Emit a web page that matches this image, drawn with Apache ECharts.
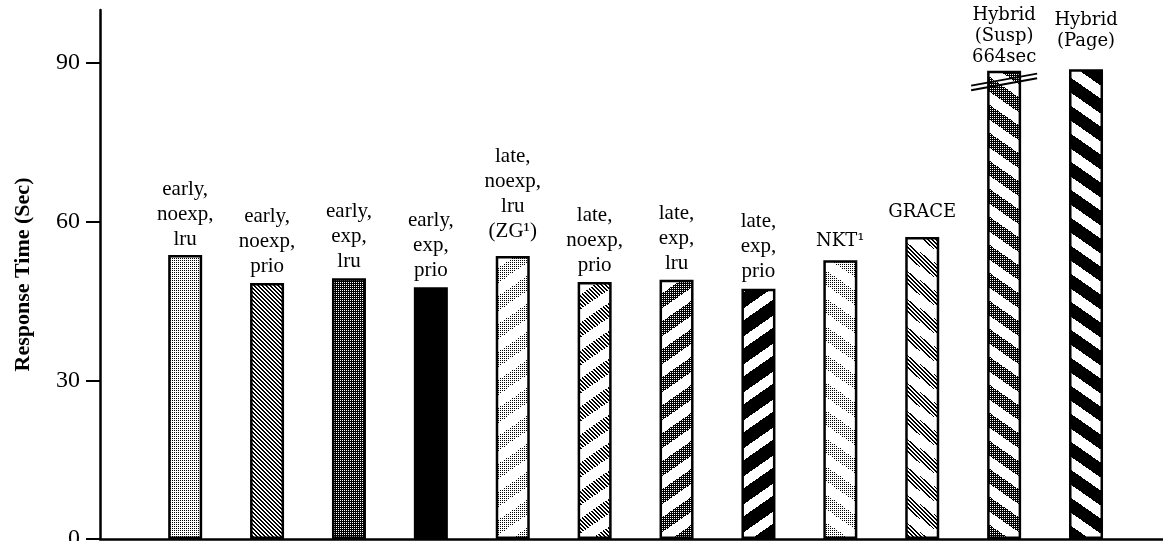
<!DOCTYPE html>
<html>
<head>
<meta charset="utf-8">
<script src="https://cdn.jsdelivr.net/npm/echarts@6/dist/echarts.min.js"></script>
<style>
html,body{margin:0;padding:0;background:#fff;}
#chart{width:1163px;height:541px;}
</style>
</head>
<body>
<div id="chart"></div>
<script>
// ---- data ----
const categories = [
  'early,\nnoexp,\nlru',
  'early,\nnoexp,\nprio',
  'early,\nexp,\nlru',
  'early,\nexp,\nprio',
  'late,\nnoexp,\nlru\n(ZG\u00B9)',
  'late,\nnoexp,\nprio',
  'late,\nexp,\nlru',
  'late,\nexp,\nprio',
  'NKT\u00B9',
  'GRACE',
  'Hybrid\n(Susp)\n664sec',
  'Hybrid\n(Page)'
];
const values = [53.7, 48.4, 49.3, 47.6, 53.5, 48.6, 49.0, 47.3, 52.7, 57.1, 88.5, 88.8];
const yTicks = [0, 30, 60, 90];
const breakAt = [[10, 86.4]]; // axis break marker on the 664sec bar

// ---- styles (patterns) ----
const textures = {
  light: (x, y) => (x % 2 === 0 && y % 2 === 0),
  medium: (x, y) => (((x - y) % 4 + 4) % 4) < 2,
  dark: (x, y) => !(x % 2 === 0 && y % 2 === 0),
  black: () => true
};
function tile(w, h, fn) {
  const c = document.createElement('canvas');
  c.width = w; c.height = h;
  const ctx = c.getContext('2d');
  const img = ctx.createImageData(w, h);
  for (let y = 0; y < h; y++) for (let x = 0; x < w; x++) {
    const k = (y * w + x) * 4;
    const v = fn(x, y) ? 0 : 255;
    img.data[k] = v; img.data[k + 1] = v; img.data[k + 2] = v; img.data[k + 3] = 255;
  }
  ctx.putImageData(img, 0, 0);
  return c;
}
function plain(tex) { return { image: tile(4, 4, textures[tex]), repeat: 'repeat' }; }
function stripes(tex, dir, band) {
  const W = 40, H = 28;
  return {
    image: tile(W, H, (x, y) => {
      const t = dir === 'up' ? (y + x * H / W) : (y - x * H / W);
      const m = ((t % H) + H) % H;
      return m < band ? textures[tex](x, y) : false;
    }),
    repeat: 'repeat'
  };
}
const fills = [
  plain('light'), plain('medium'), plain('dark'), plain('black'),
  stripes('light', 'up', 15), stripes('medium', 'up', 15), stripes('dark', 'up', 15), stripes('black', 'up', 16),
  stripes('light', 'down', 15), stripes('medium', 'down', 15), stripes('dark', 'down', 15), stripes('black', 'down', 15)
];
const timesLabel = { fontFamily: 'Liberation Serif', fontSize: 21, lineHeight: 25 };
const schoolLabel = { fontFamily: 'DejaVu Serif', fontSize: 18, lineHeight: 21 };
const labelDist = [3, 4, 4, 4, 12, 4, 4, 5, 8, 14, 3, 17];

const barData = values.map((v, i) => ({
  value: [i, v],
  itemStyle: { color: fills[i] },
  label: Object.assign({ distance: labelDist[i] }, i >= 8 ? schoolLabel : timesLabel)
}));

const chart = echarts.init(document.getElementById('chart'));
chart.setOption({
  animation: false,
  backgroundColor: '#fff',
  grid: { left: 100, right: 0, top: 10, bottom: 2, containLabel: false, outerBoundsMode: 'none' },
  xAxis: {
    type: 'value', min: -1.04, max: 11.94,
    axisLine: { show: true, onZero: false, lineStyle: { color: '#000', width: 2.5 } },
    axisTick: { show: false }, axisLabel: { show: false }, splitLine: { show: false }
  },
  yAxis: {
    type: 'value', min: 0, max: 100,
    name: 'Response Time (Sec)', nameLocation: 'middle', nameGap: 66,
    nameTextStyle: { fontFamily: 'Liberation Serif', fontWeight: 'bold', fontSize: 22, color: '#000' },
    axisLine: { show: true, onZero: false, lineStyle: { color: '#000', width: 2.5 } },
    axisTick: { show: true, inside: false, length: 14, customValues: yTicks, lineStyle: { color: '#000', width: 2 } },
    axisLabel: { customValues: yTicks, margin: 20, fontFamily: 'Liberation Serif', fontSize: 24, color: '#000' },
    splitLine: { show: false }
  },
  series: [
    {
      type: 'bar', barWidth: 34, data: barData,
      itemStyle: { borderColor: '#000', borderWidth: 2.5 },
      label: {
        show: true, position: 'top', color: '#000', align: 'center',
        formatter: p => categories[p.dataIndex]
      },
      emphasis: { disabled: true }, silent: true
    },
    {
      type: 'custom', data: breakAt, silent: true, z: 5,
      renderItem: (params, api) => {
        const c = api.coord([api.value(0), api.value(1)]);
        const dx = 33, dy = 6, gap = 2.3;
        return {
          type: 'group',
          children: [-gap, gap].map(o => ({
            type: 'line',
            shape: { x1: c[0] - dx, y1: c[1] + dy + o, x2: c[0] + dx, y2: c[1] - dy + o },
            style: { stroke: '#000', lineWidth: 1.8 }
          }))
        };
      }
    }
  ]
});
</script>
</body>
</html>
